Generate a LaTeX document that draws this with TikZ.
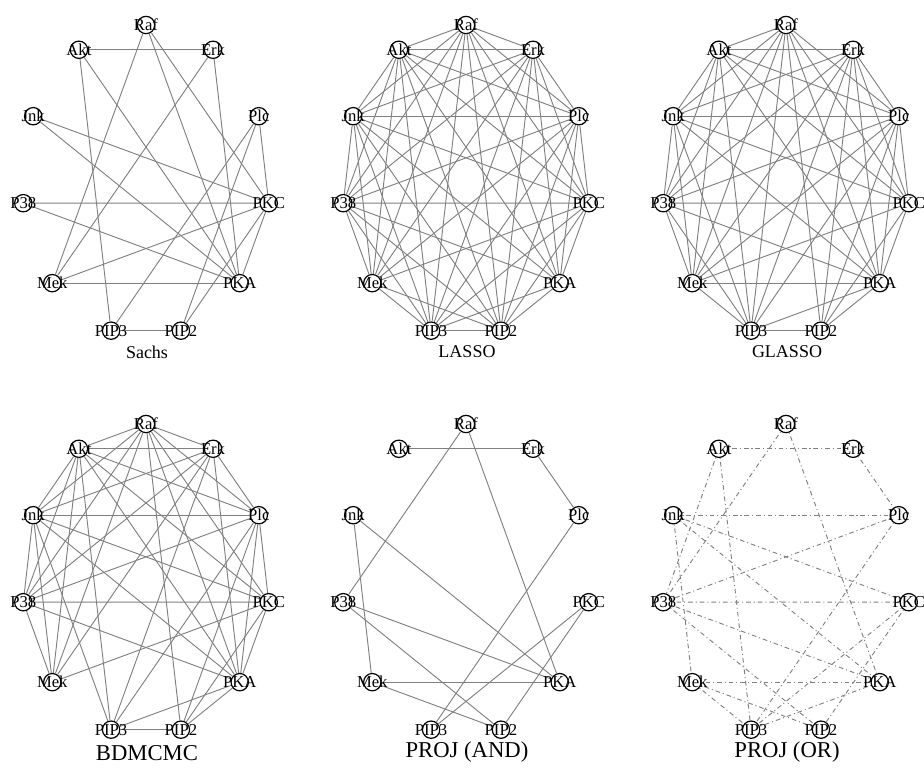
\documentclass[tikz,border=0pt]{standalone}
\usepackage{fontspec}
\setmainfont{Liberation Serif}

\begin{document}
\begin{tikzpicture}[x=0.75pt,y=-0.75pt,
		vtx/.style={circle,draw=black,line width=0.9pt,minimum size=13pt,inner sep=0pt},
		lbl/.style={font=\fontsize{12.5}{12.5}\selectfont,inner sep=0pt},
		edg/.style={draw=gray,line width=0.7pt},
		dotdash/.style={edg,dash pattern=on 0.8pt off 2.2pt on 3.5pt off 2.2pt},
		ttl/.style={font=\fontsize{13.5}{14}\selectfont},
		bigttl/.style={font=\fontsize{17}{18}\selectfont}]
	\useasboundingbox (0,0) rectangle (924,768);

	% eleven proteins on an ellipse, one ring per method
	\foreach \p/\cx/\cy in {1/146/181,2/466/181,3/786/181,4/146/580,5/466/580,6/786/580}{
		\foreach \n [count=\i from 0] in {Raf,Akt,Jnk,P38,Mek,PIP3,PIP2,PKA,PKC,Plc,Erk}{
			\node[vtx] (\n\p) at ({\cx+124*cos(90+\i*360/11)},{\cy-156*sin(90+\i*360/11)}) {};
		}
	}

	% Sachs
	\foreach \a/\b in {Akt/Erk,Raf/Mek,Raf/PKA,Raf/PKC,Akt/PIP3,Akt/PKA,Erk/Mek,Erk/PKA,
		Jnk/PKC,Jnk/PKA,Plc/PIP3,Plc/PIP2,Plc/PKC,P38/PKC,P38/PKA,Mek/PKC,Mek/PKA,
		PKC/PIP2,PKC/PKA,PIP3/PIP2}
		\draw[edg] (\a1) -- (\b1);

	% LASSO
	\foreach \a/\b in {Raf/Akt,Raf/Jnk,Raf/P38,Raf/Mek,Raf/PIP3,Raf/PIP2,Raf/PKA,Raf/PKC,Raf/Plc,Raf/Erk,
		Akt/Jnk,Akt/P38,Akt/Mek,Akt/PIP3,Akt/PIP2,Akt/PKA,Akt/PKC,Akt/Plc,Akt/Erk,
		Jnk/P38,Jnk/Mek,Jnk/PIP3,Jnk/PIP2,Jnk/PKA,Jnk/PKC,Jnk/Plc,Jnk/Erk,
		P38/Mek,P38/PIP3,P38/PIP2,P38/PKA,P38/PKC,P38/Plc,P38/Erk,
		Mek/PIP3,Mek/PIP2,Mek/PKC,Mek/Plc,Mek/Erk,
		PIP3/PIP2,PIP3/PKA,PIP3/PKC,PIP3/Plc,PIP3/Erk,
		PIP2/PKA,PIP2/PKC,PIP2/Plc,PIP2/Erk,
		PKA/PKC,PKA/Plc,PKA/Erk,
		PKC/Plc,PKC/Erk,
		Plc/Erk}
		\draw[edg] (\a2) -- (\b2);

	% GLASSO
	\foreach \a/\b in {Raf/Akt,Raf/Plc,Raf/Jnk,Raf/P38,Raf/Mek,Raf/PIP3,Raf/PIP2,Raf/PKA,Raf/PKC,
		Akt/Erk,Akt/Jnk,Akt/P38,Akt/Mek,Akt/PIP3,Akt/PKA,Akt/PKC,Akt/Plc,
		Erk/Jnk,Erk/P38,Erk/Mek,Erk/PIP3,Erk/PIP2,Erk/PKA,Erk/PKC,Erk/Plc,
		Jnk/Plc,Jnk/P38,Jnk/Mek,Jnk/PIP3,Jnk/PKA,Jnk/PKC,
		Plc/P38,Plc/Mek,Plc/PIP3,Plc/PIP2,Plc/PKC,Plc/PKA,
		P38/PKC,P38/Mek,P38/PIP3,P38/PKA,
		PKC/Mek,PKC/PIP2,PKC/PKA,
		Mek/PKA,Mek/PIP3,
		PKA/PIP3,PKA/PIP2,
		PIP3/PIP2}
		\draw[edg] (\a3) -- (\b3);

	% BDMCMC
	\foreach \a/\b in {Raf/Akt,Raf/Erk,Raf/Jnk,Raf/P38,Raf/Mek,Raf/PIP2,Raf/PKA,Raf/PKC,Raf/Plc,
		Akt/Erk,Akt/Jnk,Akt/P38,Akt/Mek,Akt/PIP3,Akt/PKA,Akt/PKC,Akt/Plc,
		Erk/Jnk,Erk/P38,Erk/Mek,Erk/PIP3,Erk/PKA,Erk/Plc,
		Jnk/Plc,Jnk/P38,Jnk/Mek,Jnk/PIP3,Jnk/PKA,Jnk/PKC,
		Plc/P38,Plc/PIP3,Plc/PKA,Plc/PKC,Plc/PIP2,
		P38/PKC,P38/Mek,P38/PKA,
		PKC/Mek,PKC/PIP2,PKC/PKA,
		PKA/PIP3,PKA/PIP2,
		PIP3/PIP2}
		\draw[edg] (\a4) -- (\b4);

	% PROJ (AND)
	\foreach \a/\b in {Akt/Erk,Raf/P38,Raf/PKA,Erk/Plc,Jnk/Mek,Jnk/PKA,Plc/PIP3,
		P38/PKA,P38/PIP2,PKC/PIP3,PKC/PIP2,Mek/PKA,Mek/PIP2}
		\draw[edg] (\a5) -- (\b5);

	% PROJ (OR)
	\foreach \a/\b in {Akt/Erk,Raf/P38,Raf/PKA,Erk/Plc,Akt/P38,Akt/PIP3,Jnk/Plc,Jnk/Mek,
		Jnk/PKC,Jnk/PKA,Plc/P38,Plc/PIP3,P38/PKC,P38/PKA,P38/PIP2,PKC/PIP3,PKC/PIP2,
		Mek/PKA,Mek/PIP3,Mek/PIP2,PKA/PIP3}
		\draw[dotdash] (\a6) -- (\b6);

	% names on top of the rings
	\foreach \p in {1,...,6}{
		\foreach \n in {Raf,Akt,Jnk,P38,Mek,PIP3,PIP2,PKA,PKC,Plc,Erk}
			\node[lbl] at (\n\p) {\n};
	}

	\node[ttl] (t1) at (147,352) {Sachs};
	\node[ttl] (t2) at (467,352) {LASSO};
	\node[ttl] (t3) at (787,352) {GLASSO};
	\node[bigttl] (t4) at (147,753) {BDMCMC};
	\node[bigttl] (t5) at (467,752) {PROJ (AND)};
	\node[bigttl] (t6) at (787,752) {PROJ (OR)};
\end{tikzpicture}
\end{document}
